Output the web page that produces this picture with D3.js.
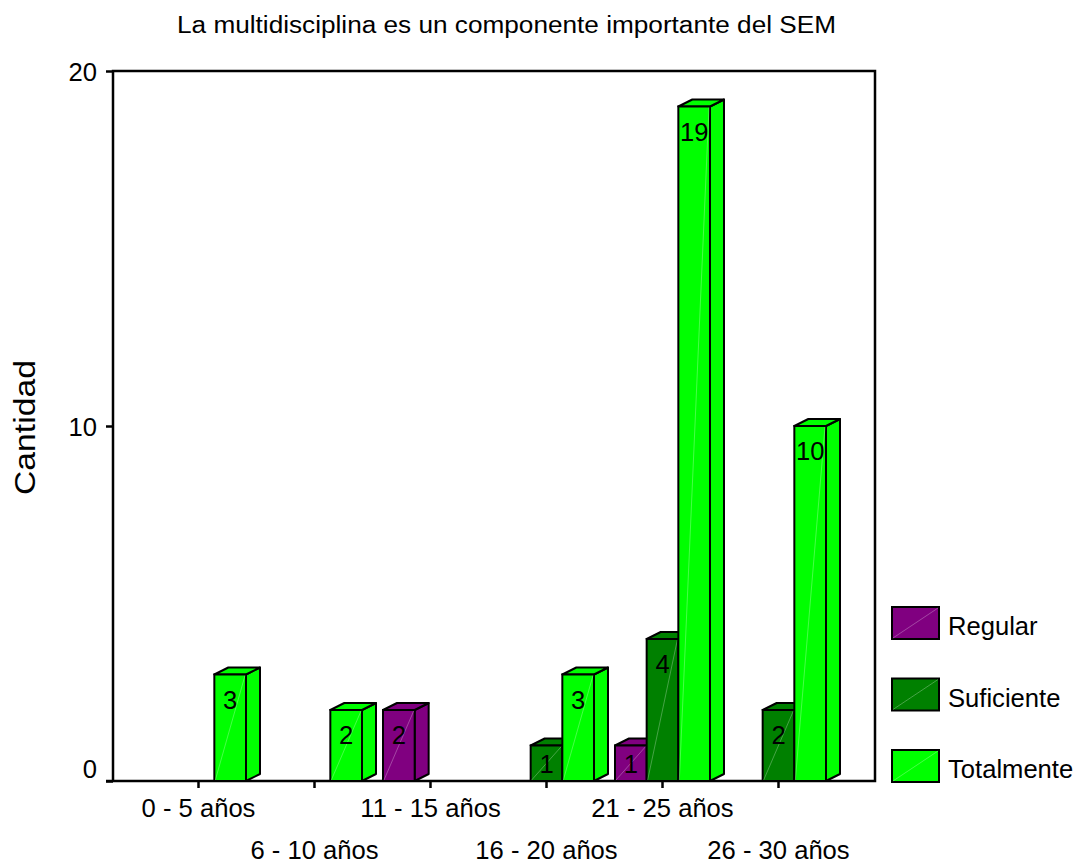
<!DOCTYPE html>
<html>
<head>
<meta charset="utf-8">
<script src="https://cdn.jsdelivr.net/npm/d3@7"></script>
<style>
  html, body { margin: 0; padding: 0; background: #fff; }
  svg { display: block; font-family: "Liberation Sans", Arial, sans-serif; }
</style>
</head>
<body>
<svg id="chart" width="1081" height="863"></svg>
<script>
// Chart data
const categories = ["0 - 5 años", "6 - 10 años", "11 - 15 años", "16 - 20 años", "21 - 25 años", "26 - 30 años"];
const seriesNames = ["Regular", "Suficiente", "Totalmente"];
const regular    = [0, 0, 2, 0, 1, 0];
const suficiente = [0, 0, 0, 1, 4, 2];
const totalmente = [3, 2, 0, 3, 19, 10];
const seriesColors = ["#800080", "#008000", "#00ff00"];
const yTicks = [0, 10, 20];
const titleText = "La multidisciplina es un componente importante del SEM";
const yLabel = "Cantidad";

const seriesValues = [regular, suficiente, totalmente];

const svg = d3.select("#chart");
const labelSize = 25.6;

// Plot frame
const plotLeft = 113, plotRight = 875, plotTop = 71, plotBottom = 781;
const depthX = 14, depthY = 7;

const x0 = d3.scaleBand()
  .domain(categories)
  .range([140.5, 836.5])
  .paddingInner(0.181)
  .paddingOuter(0.0905);

const x1 = d3.scaleBand()
  .domain(seriesNames)
  .range([0, x0.bandwidth()]);

const y = d3.scaleLinear().domain([0, 20]).range([plotBottom, plotTop]);

const color = d3.scaleOrdinal().domain(seriesNames).range(seriesColors);

// Title
svg.append("text")
  .attr("x", 177)
  .attr("y", 33)
  .attr("font-size", 23)
  .attr("textLength", 659)
  .attr("lengthAdjust", "spacingAndGlyphs")
  .attr("fill", "#000")
  .text(titleText);

// Y axis title
svg.append("text")
  .attr("transform", "translate(35,427.5) rotate(-90)")
  .attr("text-anchor", "middle")
  .attr("font-size", 30)
  .attr("textLength", 135)
  .attr("lengthAdjust", "spacingAndGlyphs")
  .text(yLabel);

// Y axis
const yAxis = svg.append("g")
  .attr("transform", `translate(${plotLeft},0)`)
  .call(d3.axisLeft(y).tickValues(yTicks).tickSize(7).tickSizeOuter(0).tickPadding(9));
yAxis.select(".domain").remove();
yAxis.selectAll(".tick line").attr("stroke", "#000").attr("stroke-width", 2.5);
yAxis.selectAll(".tick text")
  .attr("font-size", labelSize)
  .attr("font-family", "Liberation Sans, Arial, sans-serif")
  .attr("fill", "#000")
  .attr("dy", d => d === 0 ? "-0.12em" : "0.36em")
  .attr("x", -16);

// X axis ticks and labels (staggered on two rows)
const xAxis = svg.append("g")
  .attr("transform", `translate(0,${plotBottom})`)
  .call(d3.axisBottom(x0).tickSize(7).tickSizeOuter(0));
xAxis.select(".domain").remove();
xAxis.selectAll(".tick line").attr("stroke", "#000").attr("stroke-width", 2.5);
xAxis.selectAll(".tick text")
  .attr("font-size", labelSize)
  .attr("font-family", "Liberation Sans, Arial, sans-serif")
  .attr("fill", "#000")
  .attr("dy", null)
  .attr("y", (d, i) => i % 2 === 0 ? 36 : 78);

// Frame lines
svg.append("path")
  .attr("d", `M${plotLeft - 7},${plotBottom}H${plotRight}V${plotTop}H${plotLeft}V${plotBottom}`)
  .attr("fill", "none")
  .attr("stroke", "#000")
  .attr("stroke-width", 2.5);

// Bars, drawn left to right so each front face covers the previous side face
const bars = [];
categories.forEach((c, ci) => {
  seriesNames.forEach((s, si) => {
    const v = seriesValues[si][ci];
    if (v > 0) bars.push({ category: c, series: s, value: v });
  });
});

const barG = svg.append("g").selectAll("g.bar")
  .data(bars)
  .join("g")
  .attr("class", "bar");

barG.each(function(d) {
  const g = d3.select(this);
  const bx = x0(d.category) + x1(d.series);
  const bw = x1.bandwidth();
  const by = y(d.value);
  const y0 = y(0);
  const fill = color(d.series);

  // side face
  g.append("path")
    .attr("d", `M${bx + bw},${y0}L${bx + bw + depthX},${y0 - depthY}L${bx + bw + depthX},${by - depthY}L${bx + bw},${by}Z`)
    .attr("fill", fill).attr("stroke", "#000").attr("stroke-width", 2).attr("stroke-linejoin", "round");
  // top face
  g.append("path")
    .attr("d", `M${bx},${by}L${bx + depthX},${by - depthY}L${bx + bw + depthX},${by - depthY}L${bx + bw},${by}Z`)
    .attr("fill", fill).attr("stroke", "#000").attr("stroke-width", 2).attr("stroke-linejoin", "round");
  // front face
  g.append("rect")
    .attr("x", bx).attr("y", by).attr("width", bw).attr("height", y0 - by)
    .attr("fill", fill).attr("stroke", "#000").attr("stroke-width", 2);
  // faint sheen line across the front face
  g.append("line")
    .attr("x1", bx + 1).attr("y1", y0 - 1)
    .attr("x2", bx + bw - 1).attr("y2", by + 1)
    .attr("stroke", "#fff").attr("stroke-opacity", 0.35).attr("stroke-width", 0.8);
  // value label
  g.append("text")
    .attr("x", bx + bw / 2)
    .attr("y", Math.min(by + 34, y0 - 8))
    .attr("text-anchor", "middle")
    .attr("font-size", labelSize)
    .attr("fill", "#000")
    .text(d.value);
});

// Legend
const legend = svg.append("g").selectAll("g.legend-item")
  .data(seriesNames)
  .join("g")
  .attr("class", "legend-item")
  .attr("transform", (d, i) => `translate(892,${607 + i * 71.5})`);

legend.append("rect")
  .attr("width", 47).attr("height", 32)
  .attr("fill", d => color(d))
  .attr("stroke", "#000").attr("stroke-width", 2);
legend.append("line")
  .attr("x1", 1).attr("y1", 31).attr("x2", 46).attr("y2", 1)
  .attr("stroke", "#fff").attr("stroke-opacity", 0.35).attr("stroke-width", 0.8);
legend.append("text")
  .attr("x", 56).attr("y", 28)
  .attr("font-size", labelSize)
  .attr("fill", "#000")
  .text(d => d);
</script>
</body>
</html>
